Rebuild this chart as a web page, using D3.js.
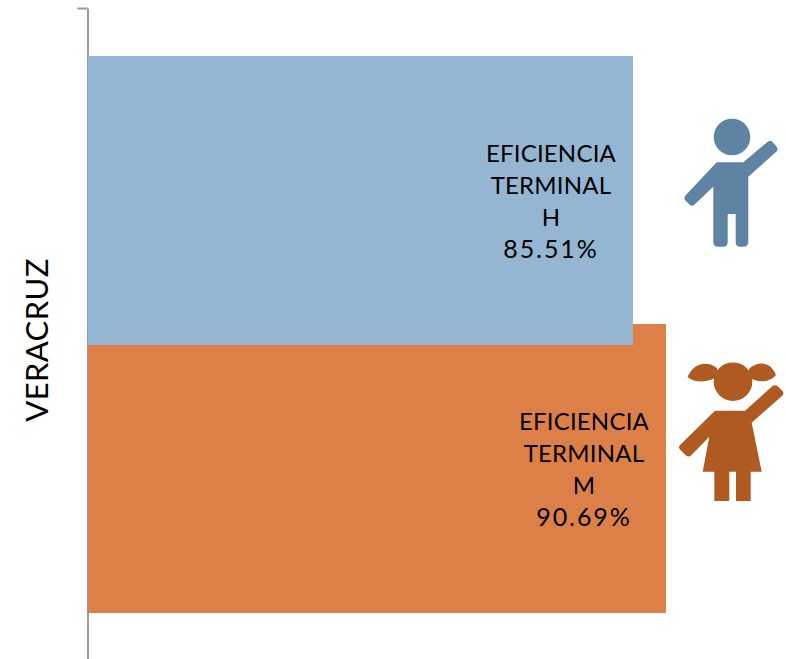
<!DOCTYPE html>
<html><head><meta charset="utf-8">
<script src="https://cdn.jsdelivr.net/npm/d3@7/dist/d3.min.js"></script>
<style>html,body{margin:0;padding:0;background:#fff}svg{display:block}text{font-family:Lato,"Open Sans",sans-serif;fill:#000}</style>
</head><body><svg id="c" width="786" height="659"></svg>
<script>
const categories=["H","M"];
const values=[85.51,90.69];
const metricLines=["EFICIENCIA","TERMINAL"];
const axisLabel="VERACRUZ";
const barColors=["#94B6D2","#DD8047"];

const svg=d3.select("#c");
const x=d3.scaleLinear().domain([0,100]).range([88,725.3]);
const y=d3.scaleBand().domain(categories).range([56,613]).paddingInner(-21/268);
const color=d3.scaleOrdinal(categories,barColors);

// axis: single tick at top, no labels
const axis=d3.axisLeft(d3.scaleLinear().domain([0,1]).range([659,8])).tickValues([1]).tickSizeInner(10).tickSizeOuter(0).tickFormat("");
svg.append("g").attr("transform","translate(87.5,0)").call(axis)
  .call(g=>g.selectAll("path,line").attr("stroke","#9a9a9a").attr("stroke-width",2));

// orange first so the blue bar overlaps it
svg.append("g").selectAll("rect").data(categories.map((c,i)=>({c,v:values[i]})).reverse()).join("rect")
  .attr("x",x(0)).attr("y",d=>y(d.c)).attr("width",d=>x(d.v)-x(0)).attr("height",y.bandwidth()).attr("fill",d=>color(d.c));

categories.forEach((c,i)=>{
  const lines=[...metricLines,c,values[i].toFixed(2)+"%"];
  const t=svg.append("text").attr("text-anchor","middle").attr("font-size",24);
  const cx=x(values[i])-82, top=y(c)+y.bandwidth()/2-38.5;
  lines.forEach((l,k)=>t.append("tspan").attr("x",cx).attr("y",top+k*32)
    .attr("font-size",k===3?25:24).attr("letter-spacing",k===3?1.9:0.2).text(l));
});

svg.append("text").attr("transform","translate(48,340) rotate(-90)").attr("text-anchor","middle").attr("font-size",31).attr("letter-spacing",0.4).text(axisLabel);

// boy icon
const boy=svg.append("g").attr("fill","#5F84A3");
boy.append("circle").attr("cx",732).attr("cy",137).attr("r",18.3);
boy.append("path").attr("d","M716.7 162.3H743.3L768 141.5Q770 140 772 141.5L776.5 146.5Q778.5 149.5 776.5 151.5L748.3 176.7V241.7Q748.3 246.7 743.3 246.7H740Q735.7 246.7 735.7 241.7V214H727.7V241.7Q727.7 246.7 723.3 246.7H718.3Q713.3 246.7 713.3 241.7V186.7L694 205Q692 206.5 690 205L685 200Q683.5 197.5 685.5 195.5Z");

// girl icon
const girl=svg.append("g").attr("fill","#AE5A21");
girl.append("circle").attr("cx",733).attr("cy",381.7).attr("r",19.3);
girl.append("path").attr("d","M717 368C708 361 694 362 687.5 377C696 384 710 382 718 376Z");
girl.append("path").attr("d","M749 369C758 360 771 362 776 375C768 384 756 382 748 377Z");
girl.append("path").attr("d","M715 410.7H745L772.5 386Q775 384.5 777.5 386L782.5 391Q784.5 393.5 782 396L751.7 422.7L761.7 471.7H750.7V501H736V471.7H729.3V501H714.3V471.7H702.7L709.3 436.7L691 455.5Q688.3 457.5 686 455.5L680 449.5Q678 447.3 680 445Z");
</script></body></html>
